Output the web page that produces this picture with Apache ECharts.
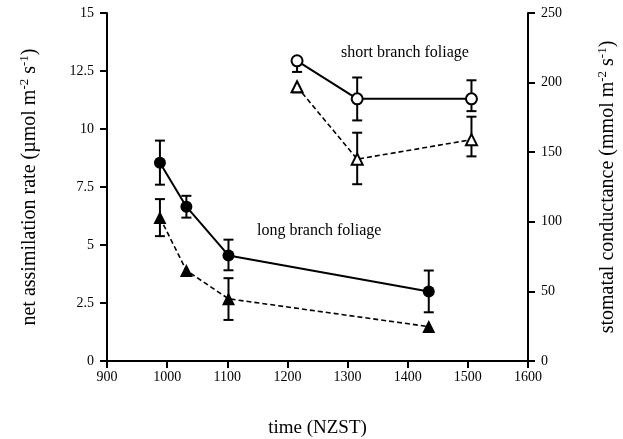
<!DOCTYPE html>
<html>
<head>
<meta charset="utf-8">
<script src="https://cdn.jsdelivr.net/npm/echarts@6/dist/echarts.min.js"></script>
<style>html,body{margin:0;padding:0;background:#fff}#c{width:623px;height:439px}</style>
</head>
<body>
<div id="c"></div>
<script>
// ---- data ----
const longTime = [988, 1032, 1102, 1435];
const longAssim = [8.55, 6.65, 4.55, 3.0];
const longAssimErrUp = [0.95, 0.47, 0.68, 0.9];
const longAssimErrDown = [0.95, 0.47, 0.64, 0.9];
const longCond = [103, 65, 44.7, 24.7];
const longCondErrUp = [13.3, 0, 14.8, 0];
const longCondErrDown = [13.3, 0, 15.2, 0];

const shortTime = [1216, 1316, 1506];
const shortAssim = [12.94, 11.3, 11.3];
const shortAssimErrUp = [0, 0.92, 0.8];
const shortAssimErrDown = [0.48, 0.93, 0.53];
const shortCond = [197, 145, 159];
const shortCondErrUp = [0, 19, 16.5];
const shortCondErrDown = [4, 18, 12];

const xTicks = [900, 1000, 1100, 1200, 1300, 1400, 1500, 1600];
const leftTicks = [0, 2.5, 5, 7.5, 10, 12.5, 15];
const rightTicks = [0, 50, 100, 150, 200, 250];

// ---- helpers ----
const serif = 'Liberation Serif';
function zip(xs, ys) { return xs.map((x, i) => [x, ys[i]]); }
function errData(xs, ys, up, dn) { return xs.map((x, i) => [x, ys[i], up[i], dn[i]]); }
function errRender(params, api) {
  const x = api.value(0), y = api.value(1), up = api.value(2), dn = api.value(3);
  const c = api.coord([x, y]);
  const st = { stroke: '#000', lineWidth: 2 };
  const ch = [];
  const w = 5;
  if (up > 0) {
    const t = api.coord([x, y + up]);
    ch.push({ type: 'line', shape: { x1: c[0], y1: c[1], x2: t[0], y2: t[1] }, style: st });
    ch.push({ type: 'line', shape: { x1: t[0] - w, y1: t[1], x2: t[0] + w, y2: t[1] }, style: st });
  }
  if (dn > 0) {
    const b = api.coord([x, y - dn]);
    ch.push({ type: 'line', shape: { x1: c[0], y1: c[1], x2: b[0], y2: b[1] }, style: st });
    ch.push({ type: 'line', shape: { x1: b[0] - w, y1: b[1], x2: b[0] + w, y2: b[1] }, style: st });
  }
  return { type: 'group', children: ch };
}
function errSeries(data, yIdx) {
  return { type: 'custom', yAxisIndex: yIdx, data: data, renderItem: errRender, z: 1, silent: true,
    encode: { x: 0, y: 1 } };
}

const chart = echarts.init(document.getElementById('c'), null, { renderer: 'canvas' });
const axisLine = { show: true, lineStyle: { color: '#000', width: 2 } };
const axisTick = { show: true, length: 7, lineStyle: { color: '#000', width: 2 } };
const tickLbl = { color: '#000', fontFamily: serif, fontSize: 14 };
const supRich = {
  n: { fontFamily: serif, fontSize: 20, color: '#000' },
  s: { fontFamily: serif, fontSize: 13, color: '#000', verticalAlign: 'top', padding: [0, 0, 10, 0] }
};

chart.setOption({
  animation: false,
  backgroundColor: '#fff',
  grid: { left: 107, right: 95, top: 13, bottom: 78, containLabel: false, outerBoundsMode: 'none' },
  xAxis: [{
    type: 'value', min: xTicks[0], max: xTicks[xTicks.length - 1], interval: 100,
    axisLine: axisLine, axisTick: axisTick, splitLine: { show: false },
    axisLabel: Object.assign({ margin: 9, formatter: v => xTicks.includes(v) ? String(v) : '' }, tickLbl),
    name: 'time (NZST)', nameLocation: 'middle', nameGap: 58,
    nameTextStyle: { fontFamily: serif, fontSize: 19, color: '#000' }
  }, {
    type: 'value', position: 'top', min: xTicks[0], max: xTicks[xTicks.length - 1],
    axisLine: axisLine, axisTick: { show: false }, axisLabel: { show: false }, splitLine: { show: false }
  }],
  yAxis: [{
    type: 'value', position: 'left', min: 0, max: 15, interval: 2.5,
    axisLine: axisLine, axisTick: axisTick, splitLine: { show: false },
    axisLabel: Object.assign({ margin: 13, formatter: v => leftTicks.includes(v) ? String(v) : '' }, tickLbl),
    name: '{n|net assimilation rate (µmol m}{s|-2}{n| s}{s|-1}{n|)}',
    nameLocation: 'middle', nameGap: 66, nameRotate: 90,
    nameTextStyle: { rich: supRich }
  }, {
    type: 'value', position: 'right', min: 0, max: 250, interval: 50,
    axisLine: axisLine, axisTick: axisTick, splitLine: { show: false },
    axisLabel: Object.assign({ margin: 13, formatter: v => rightTicks.includes(v) ? String(v) : '' }, tickLbl),
    name: '{n|stomatal conductance (mmol m}{s|-2}{n| s}{s|-1}{n|)}',
    nameLocation: 'middle', nameGap: 68, nameRotate: 90,
    nameTextStyle: { rich: supRich }
  }],
  graphic: [
    { type: 'text', left: 341, top: 45, style: { text: 'short branch foliage', font: '16px "Liberation Serif"', fill: '#000' } },
    { type: 'text', left: 257, top: 223, style: { text: 'long branch foliage', font: '16px "Liberation Serif"', fill: '#000' } }
  ],
  series: [
    errSeries(errData(longTime, longAssim, longAssimErrUp, longAssimErrDown), 0),
    errSeries(errData(longTime, longCond, longCondErrUp, longCondErrDown), 1),
    errSeries(errData(shortTime, shortAssim, shortAssimErrUp, shortAssimErrDown), 0),
    errSeries(errData(shortTime, shortCond, shortCondErrUp, shortCondErrDown), 1),
    { type: 'line', yAxisIndex: 0, data: zip(longTime, longAssim), symbol: 'circle', symbolSize: 12, z: 3,
      lineStyle: { color: '#000', width: 2 }, itemStyle: { color: '#000' } },
    { type: 'line', yAxisIndex: 1, data: zip(longTime, longCond), symbol: 'triangle', symbolSize: 13, z: 3,
      lineStyle: { color: '#000', width: 1.6, type: [5, 3] }, itemStyle: { color: '#000' } },
    { type: 'line', yAxisIndex: 0, data: zip(shortTime, shortAssim), symbol: 'circle', symbolSize: 11, z: 3,
      lineStyle: { color: '#000', width: 2 }, itemStyle: { color: '#fff', borderColor: '#000', borderWidth: 2 } },
    { type: 'line', yAxisIndex: 1, data: zip(shortTime, shortCond), symbol: 'triangle', symbolSize: 11, z: 3,
      lineStyle: { color: '#000', width: 1.6, type: [5, 3] }, itemStyle: { color: '#fff', borderColor: '#000', borderWidth: 2 } }
  ]
});
</script>
</body>
</html>
